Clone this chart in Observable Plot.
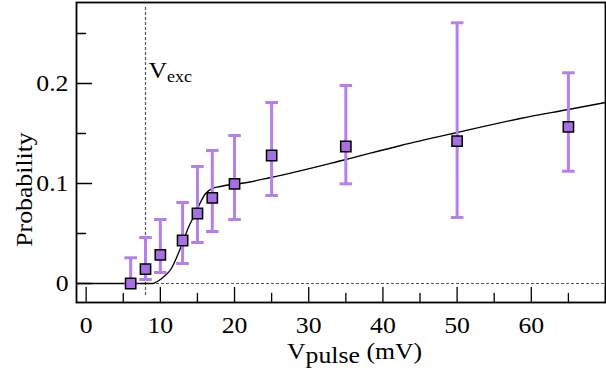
<!DOCTYPE html>
<html><head><meta charset="utf-8">
<script src="https://cdn.jsdelivr.net/npm/d3@7"></script>
<script src="https://cdn.jsdelivr.net/npm/@observablehq/plot@0.6"></script>
<style>body{margin:0;background:#fff} svg{display:block}</style>
</head><body><div id="chart"></div>
<script>
// measured points
const vPulse   = [6, 8, 10, 13, 15, 17, 20, 25, 35, 50, 65];
const prob     = [0, 0.0143, 0.0287, 0.043, 0.070, 0.0857, 0.0997, 0.128, 0.137, 0.1423, 0.1567];
const probLow  = [0, 0.004, 0.011, 0.020, 0.041, 0.052, 0.064, 0.088, 0.0997, 0.066, 0.1123];
const probHigh = [0.0257, 0.046, 0.064, 0.081, 0.117, 0.133, 0.148, 0.181, 0.198, 0.2607, 0.2107];
// fitted curve
const fitX = [-1.3, 9, 9.6, 10.5, 11.4, 12.75, 13.9, 14.8, 15.4, 16.1, 17, 18.1, 19.5, 20.8, 24.9, 35, 42.4, 50, 58.5, 65, 70];
const fitY = [0, 0, 0.002, 0.007, 0.014, 0.036, 0.058, 0.071, 0.081, 0.090, 0.095, 0.097, 0.099, 0.100, 0.106, 0.124, 0.138, 0.151, 0.165, 0.174, 0.181];
// threshold marker
const vExc = 8;
const vExcSpan = [-0.012, 0.276];
const vExcLabelY = 0.206;
// axes
const xDomain = [-1.3, 70];
const yDomain = [-0.019, 0.281];
const xMajorTicks = [0, 10, 20, 30, 40, 50, 60, 70];
const xMinorTicks = [5, 15, 25, 35, 45, 55, 65];
const xTickValues = [0, 10, 20, 30, 40, 50, 60];
const xTickLabels = ["0", "10", "20", "30", "40", "50", "60"];
const yMajorTicks = [0, 0.1, 0.2];
const yMinorTicks = [0.05, 0.15, 0.25];
const yTickValues = [0, 0.1, 0.2];
const yTickLabels = ["0", "0.1", "0.2"];

const barColor = "#b380ec";
const sqColor = "#a66fe2";
const font = "'Liberation Serif', 'Times New Roman', serif";

const pts = vPulse.map((v, i) => ({v, p: prob[i], lo: probLow[i], hi: probHigh[i]}));
const fit = fitX.map((x, i) => ({x, y: fitY[i]}));
const xLab = new Map(xTickValues.map((v, i) => [v, xTickLabels[i]]));
const yLab = new Map(yTickValues.map((v, i) => [v, yTickLabels[i]]));

const cap = {draw(ctx, size) { const r = Math.sqrt(size / Math.PI); ctx.moveTo(-r, 0); ctx.lineTo(r, 0); }};
const tickShape = {draw(ctx, l) { ctx.moveTo(0, 0); ctx.lineTo(0, -l); }};

const chart = Plot.plot({
  width: 606, height: 374,
  marginLeft: 76, marginRight: 1, marginTop: 2, marginBottom: 72,
  style: {fontFamily: font, fontSize: "23px", background: "#fff", color: "#000"},
  x: {domain: xDomain, axis: null},
  y: {domain: yDomain, axis: null},
  marks: [
    Plot.ruleY([0], {stroke: "#555", strokeWidth: 1.2, strokeDasharray: "3,2"}),
    Plot.ruleX([vExc], {y1: vExcSpan[0], y2: vExcSpan[1], stroke: "#555", strokeWidth: 1.2, strokeDasharray: "3,2"}),
    Plot.line(fit, {x: "x", y: "y", stroke: "#000", strokeWidth: 1.3, curve: "monotone-x"}),
    Plot.ruleX(pts, {x: "v", y1: "lo", y2: "hi", stroke: barColor, strokeWidth: 3}),
    Plot.dot(pts, {x: "v", y: "hi", symbol: cap, r: 6.3, stroke: barColor, strokeWidth: 3}),
    Plot.dot(pts, {x: "v", y: "lo", symbol: cap, r: 6.3, stroke: barColor, strokeWidth: 3}),
    Plot.dot(pts, {x: "v", y: "p", symbol: "square", r: 5.8, fill: sqColor, stroke: "#000", strokeWidth: 1.5}),
    Plot.text(["Vexc"], {x: () => vExc, y: () => vExcLabelY, text: d => d, textAnchor: "start", lineAnchor: "bottom", dx: 3, fontSize: 23}),
    // inward ticks
    Plot.vector(xMajorTicks, {x: d => d, frameAnchor: "bottom", length: 15, rotate: 0, anchor: "start", shape: tickShape, stroke: "#000", strokeWidth: 1.3}),
    Plot.vector(xMinorTicks, {x: d => d, frameAnchor: "bottom", length: 9, rotate: 0, anchor: "start", shape: tickShape, stroke: "#000", strokeWidth: 1.3}),
    Plot.vector(yMajorTicks, {y: d => d, frameAnchor: "left", length: 15, rotate: 90, anchor: "start", shape: tickShape, stroke: "#000", strokeWidth: 1.3}),
    Plot.vector(yMinorTicks, {y: d => d, frameAnchor: "left", length: 9, rotate: 90, anchor: "start", shape: tickShape, stroke: "#000", strokeWidth: 1.3}),
    Plot.axisX({ticks: xTickValues, tickFormat: d => xLab.get(d), tickSize: 0, tickPadding: 14, label: null}),
    Plot.axisY({ticks: yTickValues, tickFormat: d => yLab.get(d), tickSize: 0, tickPadding: 8, label: null}),
    Plot.text(["Vpulse (mV)"], {frameAnchor: "bottom", text: d => d, textAnchor: "start", lineAnchor: "bottom", dx: -54, dy: 56, fontSize: 23}),
    Plot.text(["Probability"], {frameAnchor: "left", text: d => d, rotate: -90, textAnchor: "middle", lineAnchor: "middle", dx: -52, dy: 37, fontSize: 23}),
    Plot.frame({stroke: "#000", strokeWidth: 1.8})
  ]
});
document.getElementById("chart").appendChild(chart);

// subscripts
d3.select(chart).selectAll("text").each(function() {
  const t = d3.select(this);
  const s = t.text();
  if (s === "Vexc") {
    t.text("");
    t.append("tspan").text("V");
    t.append("tspan").attr("dy", "0.3em").attr("font-size", "16px").text("exc");
  } else if (s === "Vpulse (mV)") {
    t.text("");
    t.append("tspan").text("V");
    t.append("tspan").attr("dy", "4").text("pulse");
    t.append("tspan").attr("dy", "-4").text(" (mV)");
  }
});
// the reference's serif type is a little wider than Times
d3.select(chart).selectAll("text").each(function() {
  const tr = this.getAttribute("transform") || "";
  const x = +this.getAttribute("x") || 0;
  this.setAttribute("transform", `${tr} translate(${x},0) scale(1.12,1) translate(${-x},0)`);
});
</script>
</body></html>
